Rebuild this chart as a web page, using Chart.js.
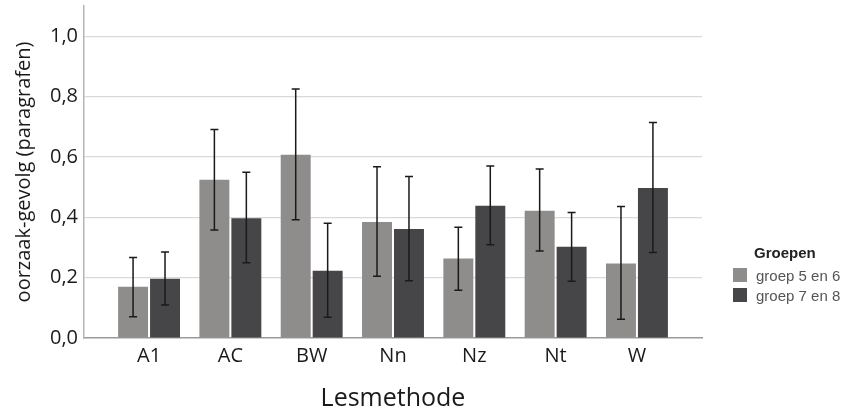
<!DOCTYPE html>
<html>
<head>
<meta charset="utf-8">
<script src="https://cdn.jsdelivr.net/npm/chart.js@4"></script>
<style>
  body { margin: 0; background: #fff; }
  #wrap { position: relative; width: 846px; height: 410px; }
  #legend { position: absolute; left: 733px; top: 244px; font-family: "Liberation Sans", Arial, sans-serif; }
  #legend .ttl { font-weight: bold; font-size: 15px; line-height: 17px; color: #222; margin-left: 21px; margin-bottom: 4px; }
  #legend .row { display: flex; align-items: center; height: 20px; font-size: 15px; color: #555; }
  #legend .box { width: 14px; height: 14px; margin-right: 9px; }
</style>
</head>
<body>
<div id="wrap">
  <canvas id="myChart"></canvas>
  <div id="legend"></div>
</div>
<script>
const categories = ['A1', 'AC', 'BW', 'Nn', 'Nz', 'Nt', 'W'];
const groupLabels = ['groep 5 en 6', 'groep 7 en 8'];

// gemiddelden
const groep56 = [0.17, 0.524, 0.607, 0.384, 0.263, 0.422, 0.247];
const groep78 = [0.196, 0.397, 0.223, 0.361, 0.438, 0.302, 0.497];

// foutbalken (onder / boven)
const groep56Low  = [0.07, 0.358, 0.392, 0.205, 0.158, 0.288, 0.062];
const groep56High = [0.267, 0.691, 0.825, 0.567, 0.367, 0.56, 0.436];
const groep78Low  = [0.109, 0.249, 0.069, 0.19, 0.309, 0.188, 0.283];
const groep78High = [0.285, 0.549, 0.38, 0.535, 0.57, 0.416, 0.714];

const yTicks = [0, 0.2, 0.4, 0.6, 0.8, 1.0];
const colors = ['#8f8c8c', '#464648'];

const lows = [groep56Low, groep78Low];
const highs = [groep56High, groep78High];

const errorBars = {
  id: 'errorBars',
  afterDatasetsDraw(chart) {
    const ctx = chart.ctx;
    const y = chart.scales.y;
    ctx.save();
    ctx.strokeStyle = '#1a1a1a';
    ctx.lineWidth = 1.5;
    chart.data.datasets.forEach((ds, d) => {
      chart.getDatasetMeta(d).data.forEach((bar, i) => {
        const x = bar.x;
        const top = y.getPixelForValue(highs[d][i]);
        const bot = y.getPixelForValue(lows[d][i]);
        ctx.beginPath();
        ctx.moveTo(x, top); ctx.lineTo(x, bot);
        ctx.moveTo(x - 4, top); ctx.lineTo(x + 4, top);
        ctx.moveTo(x - 4, bot); ctx.lineTo(x + 4, bot);
        ctx.stroke();
      });
    });
    ctx.restore();
  }
};

const ctx = document.getElementById('myChart');

const chart = new Chart(ctx, {
  type: 'bar',
  data: {
    datasets: [groep56, groep78].map((vals, d) => ({
      label: groupLabels[d],
      data: vals.map((v, i) => ({ x: i, y: v })),
      backgroundColor: colors[d],
      categoryPercentage: 0.786,
      barPercentage: 0.9375
    }))
  },
  options: {
    responsive: true,
    maintainAspectRatio: false,
    animation: false,
    layout: { padding: { top: 6, right: 144 } },
    plugins: {
      legend: { display: false },
      tooltip: { enabled: false }
    },
    scales: {
      x: {
        type: 'linear',
        offset: false,
        min: -0.8,
        max: 6.8,
        afterBuildTicks: (axis) => { axis.ticks = categories.map((c, i) => ({ value: i })); },
        afterFit: (axis) => { axis.height = 72; axis.paddingLeft = 0; axis.paddingRight = 0; },
        grid: { display: false, drawTicks: false },
        border: { display: true, color: '#9a9a9a', width: 1.5 },
        ticks: {
          padding: 6,
          autoSkip: false,
          maxRotation: 0,
          color: '#1a1a1a',
          font: { family: 'Open Sans', size: 20 },
          callback: (v) => categories[v] || ''
        },
        title: {
          display: true,
          text: 'Lesmethode',
          color: '#1a1a1a',
          font: { family: 'Open Sans', size: 25 },
          padding: { top: 4, bottom: -4 }
        }
      },
      y: {
        min: 0,
        max: 1.1,
        afterBuildTicks: (axis) => { axis.ticks = yTicks.map(v => ({ value: v })); },
        afterFit: (axis) => { axis.width = 84; axis.paddingTop = 0; axis.paddingBottom = 0; },
        grid: {
          drawTicks: false,
          color: (c) => c.tick && c.tick.value === 0 ? 'rgba(0,0,0,0)' : '#d9d9d9',
          lineWidth: 1.2
        },
        border: { display: true, color: '#b5b5b5', width: 1.5 },
        ticks: {
          padding: 6,
          color: '#1a1a1a',
          font: { family: 'Open Sans', size: 20 },
          callback: (v) => v.toFixed(1).replace('.', ',')
        },
        title: {
          display: true,
          text: 'oorzaak-gevolg (paragrafen)',
          color: '#1a1a1a',
          font: { family: 'Open Sans', size: 20 },
          padding: { top: 12, bottom: 0 }
        }
      }
    }
  },
  plugins: [errorBars]
});

const legend = document.getElementById('legend');
legend.innerHTML = '<div class="ttl">Groepen</div>' + groupLabels.map((l, d) =>
  '<div class="row"><span class="box" style="background:' + colors[d] + '"></span>' + l + '</div>'
).join('');
</script>
</body>
</html>
